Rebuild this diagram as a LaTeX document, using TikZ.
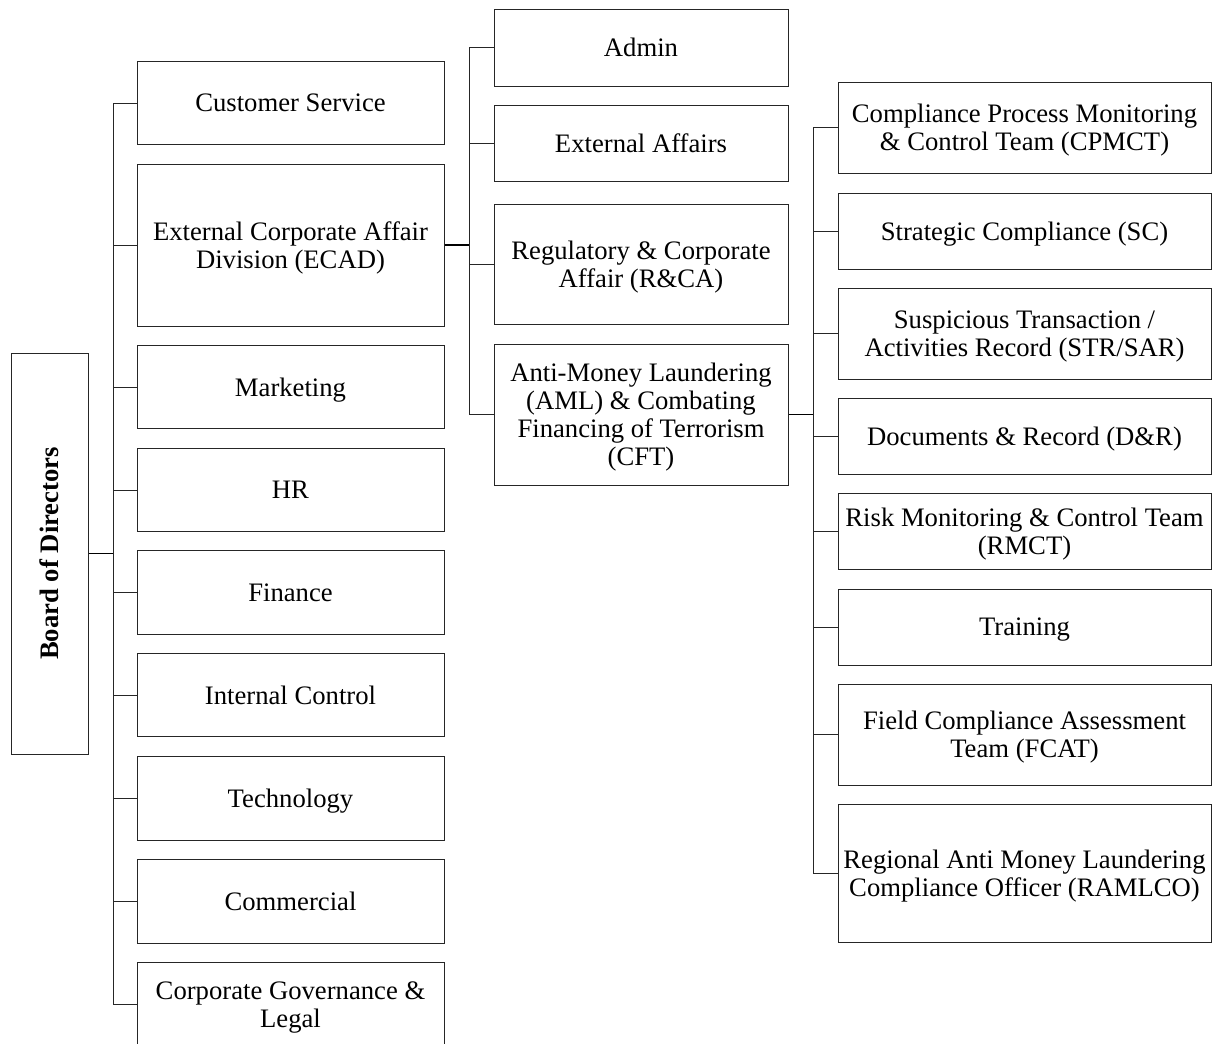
\documentclass[tikz,border=0pt]{standalone}
\usepackage{fontspec}
\setmainfont{Liberation Serif}
\begin{document}
\begin{tikzpicture}[x=0.75pt,y=-0.75pt,
  box/.style={draw=black!85,line width=0.75pt,inner sep=0pt,align=center,text depth=0pt,
    font=\fontsize{20}{21}\selectfont},
  c1/.style={box,minimum width=307*0.75pt,minimum height=83.5*0.75pt},
  c2/.style={box,minimum width=294*0.75pt},
  c3/.style={box,minimum width=373*0.75pt},
  link/.style={draw=black!85,line width=0.75pt},
  trunk/.style={draw=black,line width=1.2pt}]
\useasboundingbox (0,0) rectangle (1213,1043);
% root
\node[box,minimum width=77*0.75pt,minimum height=401*0.75pt] (bod) at (49.5,553.5) {};
\node[rotate=90,inner sep=0pt,text depth=0pt,font=\fontsize{20}{21}\selectfont\bfseries] (bodt) at (bod.center) {Board of Directors};
% column 1
\node[c1] (cs)   at (290.5,103)   {Customer Service};
\node[c1,minimum height=162*0.75pt] (ecad) at (290.5,245) {External Corporate Affair\\Division (ECAD)};
\node[c1] (mkt)  at (290.5,387)   {Marketing};
\node[c1] (hr)   at (290.5,490)   {HR};
\node[c1] (fin)  at (290.5,592.5) {Finance};
\node[c1] (ic)   at (290.5,695)   {Internal Control};
\node[c1] (tech) at (290.5,798.5) {Technology};
\node[c1] (com)  at (290.5,901.5) {Commercial};
\node[c1] (cgl)  at (290.5,1004.5) {Corporate Governance \&\\Legal};
% column 2
\node[c2,minimum height=77*0.75pt]  (adm) at (641,47.5) {Admin};
\node[c2,minimum height=76*0.75pt]  (ext) at (641,143)  {External Affairs};
\node[c2,minimum height=120*0.75pt] (rca) at (641,264)  {Regulatory \& Corporate\\Affair (R\&CA)};
\node[c2,minimum height=141*0.75pt] (aml) at (641,414.5) {Anti-Money Laundering\\(AML) \& Combating\\Financing of Terrorism\\(CFT)};
% column 3
\node[c3,minimum height=91*0.75pt]  (cpm) at (1024.5,127.5) {Compliance Process Monitoring\\\& Control Team (CPMCT)};
\node[c3,minimum height=76*0.75pt]  (sc)  at (1024.5,231)   {Strategic Compliance (SC)};
\node[c3,minimum height=91*0.75pt]  (str) at (1024.5,333.5) {Suspicious Transaction /\\Activities Record (STR/SAR)};
\node[c3,minimum height=76*0.75pt]  (dr)  at (1024.5,436)   {Documents \& Record (D\&R)};
\node[c3,minimum height=76*0.75pt]  (rm)  at (1024.5,531)   {Risk Monitoring \& Control Team\\(RMCT)};
\node[c3,minimum height=76*0.75pt]  (tr)  at (1024.5,627)   {Training};
\node[c3,minimum height=101*0.75pt] (fc)  at (1024.5,734.5) {Field Compliance Assessment\\Team (FCAT)};
\node[c3,minimum height=138*0.75pt] (ra)  at (1024.5,873)   {Regional Anti Money Laundering\\Compliance Officer (RAMLCO)};
% bus coordinates
\coordinate (b1) at (113,553.5);
\coordinate (b2) at (469,245);
\coordinate (b3) at (813,414.5);
% root links
\draw[trunk] (bod.east) -- (b1);
\draw[link] (cs.west) -- (cs.west -| b1) -- (cgl.west -| b1) -- (cgl.west);
\foreach \n in {ecad,mkt,hr,fin,ic,tech,com} \draw[link] (\n.west) -- (\n.west -| b1);
% ECAD links
\draw[trunk] (ecad.east) -- (b2);
\draw[link] (adm.west) -- (adm.west -| b2) -- (aml.west -| b2) -- (aml.west);
\foreach \n in {ext,rca} \draw[link] (\n.west) -- (\n.west -| b2);
% AML links
\draw[trunk] (aml.east) -- (b3);
\draw[link] (cpm.west) -- (cpm.west -| b3) -- (ra.west -| b3) -- (ra.west);
\foreach \n in {sc,str,dr,rm,tr,fc} \draw[link] (\n.west) -- (\n.west -| b3);
\end{tikzpicture}
\end{document}
